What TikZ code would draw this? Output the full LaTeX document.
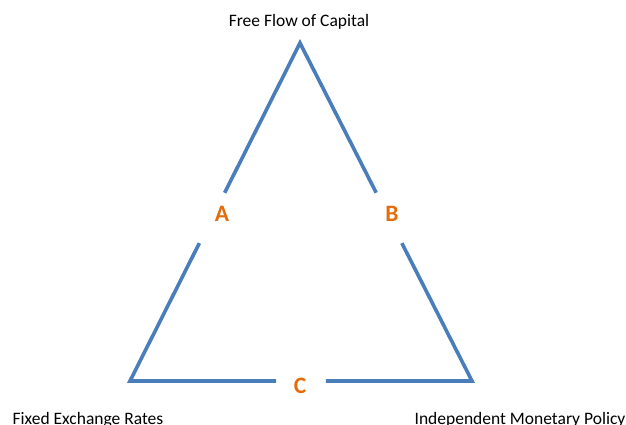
\documentclass[tikz,border=0pt]{standalone}
\usepackage{fontspec}
\setmainfont{Carlito}
\usetikzlibrary{calc}
\definecolor{edgeblue}{HTML}{4A7EBB}
\definecolor{lblorange}{HTML}{E46C0A}
\begin{document}
\begin{tikzpicture}[x=1pt,y=-1pt,
  side/.style={draw=edgeblue,line width=3.6pt,line join=miter,line cap=butt},
  corner/.style={font=\fontsize{17.5}{20}\selectfont,inner sep=0pt,anchor=base},
  letter/.style={text=lblorange,font=\bfseries\fontsize{23.5}{27}\selectfont,inner sep=0pt}]
\useasboundingbox (0,0) rectangle (626,425);
\coordinate (T) at (300,43);
\coordinate (L) at (130,381);
\coordinate (R) at (472,381);
\coordinate (aLo) at ($(L)!0.408!(T)$);
\coordinate (aHi) at ($(L)!0.557!(T)$);
\coordinate (bLo) at ($(R)!0.408!(T)$);
\coordinate (bHi) at ($(R)!0.557!(T)$);
\coordinate (cL) at ($(L)!0.427!(R)$);
\coordinate (cR) at ($(L)!0.573!(R)$);
\draw[side] (aLo) -- (L) -- (cL);
\draw[side] (cR) -- (R) -- (bLo);
\draw[side] (aHi) -- (T) -- (bHi);
\node[letter] (A) at (222,214) {A};
\node[letter] (B) at (392,214) {B};
\node[letter] (C) at (300,386) {C};
\node[corner] (cap) at (299,27) {Free Flow of Capital};
\node[corner] (fix) at (88,424) {Fixed Exchange Rates};
\node[corner] (ind) at (520,424) {Independent Monetary Policy};
\end{tikzpicture}
\end{document}
